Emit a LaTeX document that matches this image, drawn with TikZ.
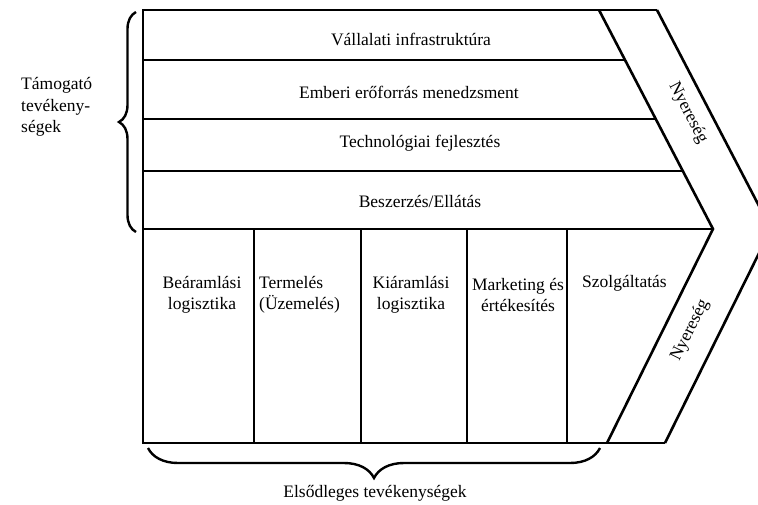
\documentclass[tikz,border=0pt]{standalone}
\usepackage{fontspec}
\setmainfont{Liberation Serif}
\usetikzlibrary{decorations.pathreplacing,calc}
\begin{document}
\begin{tikzpicture}[x=1pt,y=-1pt,
  thickline/.style={line width=2.6pt, line join=miter},
  thinline/.style={line width=1.6pt},
  lbl/.style={font=\fontsize{17.5}{21.5}\selectfont, inner sep=0pt},
  bracestyle/.style={line width=2.4pt, decorate, decoration={brace, amplitude=#1}}]
\useasboundingbox (0,0) rectangle (758,504);
% coordinates
\coordinate (tl) at (143,10);
\coordinate (tr) at (599,10);
\coordinate (tro) at (657,10);
\coordinate (apexin) at (713,229);
\coordinate (apexout) at (771,229);
\coordinate (bl) at (143,443);
\coordinate (brin) at (607,443);
\coordinate (bro) at (665,443);
% support rows
\draw[thinline] (143,60) -- ($(tr)!{50/219}!(apexin)$);
\draw[thinline] (143,119) -- ($(tr)!{109/219}!(apexin)$);
\draw[thinline] (143,171) -- ($(tr)!{161/219}!(apexin)$);
\draw[thickline] (143,229) -- (apexin);
% primary dividers
\foreach \x in {254,361,467,567} \draw[thinline] (\x,229) -- (\x,443);
% outline
\draw[thickline] (tro) -- (tl) -- (bl) -- (bro);
\draw[thickline] (tr) -- (apexin) -- (brin);
\draw[thickline] (tro) -- (apexout) -- (bro);
% texts
\node[lbl] (r1) at (411,39) {Vállalati infrastruktúra};
\node[lbl] (r2) at (409,92) {Emberi erőforrás menedzsment};
\node[lbl] (r3) at (420,143) {Technológiai fejlesztés};
\node[lbl] (r4) at (420,201) {Beszerzés/Ellátás};
\node[lbl, align=center] (p1) at (202,295) {Beáramlási\\logisztika};
\node[lbl, align=left, anchor=west] (p2) at (259,295) {Termelés\\(Üzemelés)};
\node[lbl, align=center] (p3) at (411,295) {Kiáramlási\\logisztika};
\node[lbl, align=center] (p4) at (518,295) {Marketing és\\értékesítés};
\node[lbl, anchor=west] (p5) at (582,283) {Szolgáltatás};
\node[lbl, rotate=-62.5] (n1) at (688,113) {Nyereség};
\node[lbl, rotate=63.5] (n2) at (690,330) {Nyereség};
\node[lbl, align=left, anchor=west] (sup) at (21,107) {Támogató\\tevékeny-\\ségek};
\node[lbl] (prim) at (375,493) {Elsődleges tevékenységek};
% braces
\draw[bracestyle=17] (136,232) -- (136,12);
\draw[bracestyle=30] (600,448) -- (148,448);
\end{tikzpicture}
\end{document}
